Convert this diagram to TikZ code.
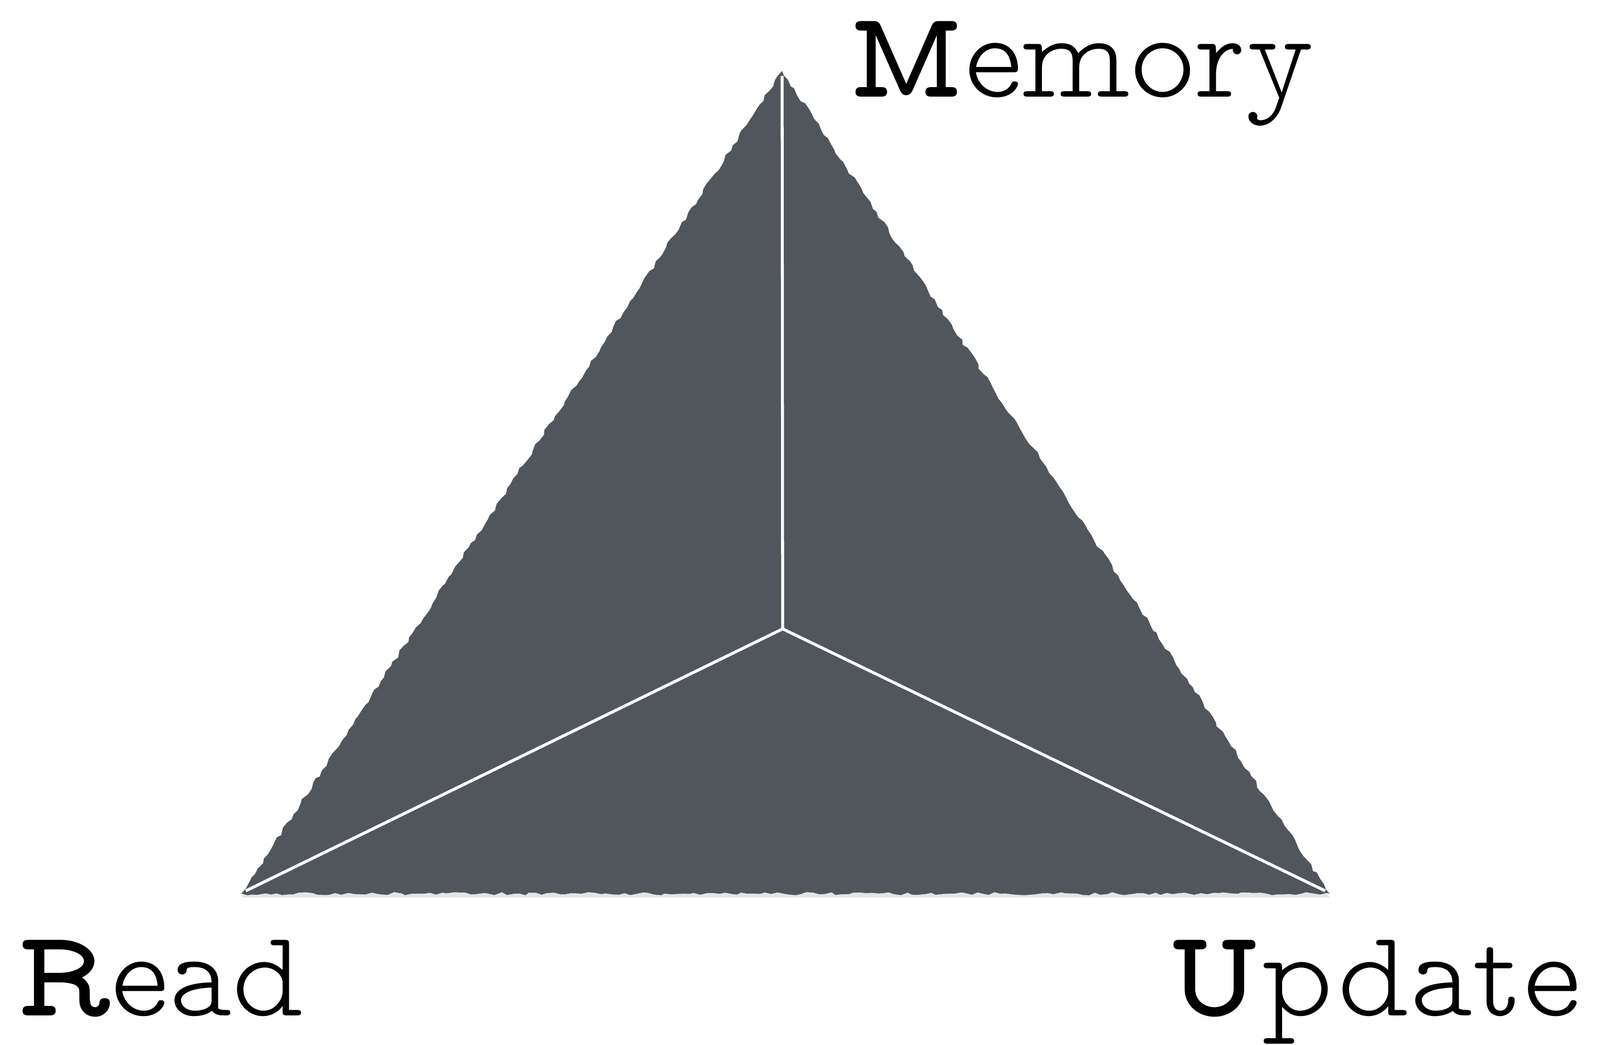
\documentclass[tikz,border=0pt]{standalone}
\usepackage{fontspec}
\newfontfamily\typefont{lmmonoproplt10-regular.otf}[BoldFont=lmmonoproplt10-bold.otf]
\usetikzlibrary{decorations.pathmorphing}
\definecolor{slate}{RGB}{81,86,93}
\newcommand{\corner}[2]{\textbf{#1}#2}
\begin{document}
\begin{tikzpicture}[x=1cm,y=1cm]
	\tikzset{
		label text/.style={anchor=base west, inner sep=0pt, font=\typefont\fontsize{63}{63}\selectfont},
		spoke/.style={draw=white, line width=1.5pt}
	}
	\useasboundingbox (0,0) rectangle (28.64,18.71);
	% --- Vertices and centre ---
	\coordinate (top) at (14.00,17.44);
	\coordinate (left) at (4.32,2.71);
	\coordinate (right) at (23.80,2.71);
	\coordinate (mid) at (14.01,7.45);
	% --- Triangle with a rough edge ---
	\fill[black!20, opacity=0.5] ([yshift=-2pt]top) -- ([yshift=-2pt]left) -- ([yshift=-2pt]right) -- cycle;
	\fill[slate, decorate, decoration={random steps, segment length=3pt, amplitude=0.8pt}]
		(top) -- (left) -- (right) -- cycle;
	% --- Spokes ---
	\draw[spoke] (mid) -- ([yshift=-0.09cm]top);
	\draw[spoke] (mid) -- ([xshift=0.08cm,yshift=0.05cm]left);
	\draw[spoke] (mid) -- ([xshift=-0.08cm,yshift=0.05cm]right);
	% --- Labels ---
	\node[label text] (memory) at (15.19,16.97) {\corner{M}{emory}};
	\node[label text] (read) at (0.30,0.52) {\corner{R}{ead}};
	\node[label text] (update) at (20.90,0.52) {\corner{U}{pdate}};
\end{tikzpicture}
\end{document}
